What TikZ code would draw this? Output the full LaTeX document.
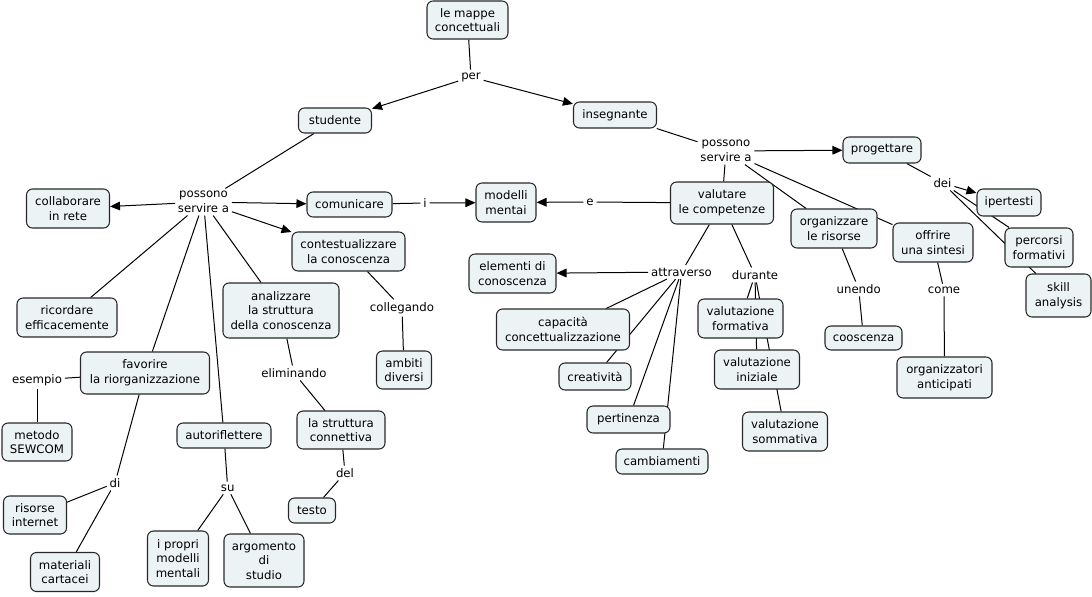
\documentclass[tikz,border=0pt]{standalone}
\usepackage{fontspec}
\setmainfont{DejaVu Sans}
\usetikzlibrary{arrows.meta,backgrounds}
\definecolor{boxfill}{RGB}{236,243,245}
\definecolor{boxline}{RGB}{40,40,40}
\newcommand\cb[6]{\node[cbox,minimum width=#4*0.75pt,minimum height=#5*0.75pt] (#1) at (#2,#3) {#6};}
\newcommand\lp[4]{\node[lab] (#1) at (#2,#3) {#4};}
\begin{document}
\begin{tikzpicture}[x=0.75pt,y=-0.75pt,
  cbox/.style={draw=boxline,fill=boxfill,rounded corners=4.5pt,line width=0.8pt,
    align=center,inner sep=1pt,font=\fontsize{8.8}{10.9}\selectfont},
  lab/.style={align=center,inner sep=2pt,font=\fontsize{8.8}{10.9}\selectfont},
  conn/.style={line width=0.75pt,black},
  arr/.style={conn,-{Triangle[length=7.5pt,width=6.5pt]}}]
\useasboundingbox (0,0) rectangle (1092,596);
% concepts
\cb{mappe}{467.5}{20}{81}{38}{le mappe\\concettuali}
\cb{studente}{335}{120.5}{73}{25}{studente}
\cb{insegnante}{615}{115}{83}{26}{insegnante}
\cb{progettare}{882}{150}{78}{26}{progettare}
\cb{ipertesti}{1009}{202.5}{64}{27}{ipertesti}
\cb{percorsi}{1039}{247.5}{68}{39}{percorsi\\formativi}
\cb{skill}{1058.5}{295.5}{65}{43}{skill\\analysis}
\cb{valutare}{722}{203}{103}{42}{valutare\\le competenze}
\cb{organizzare}{834}{228.5}{86}{39}{organizzare\\le risorse}
\cb{offrire}{933}{242.5}{80}{39}{offrire\\una sintesi}
\cb{modelli}{506}{202.5}{60}{39}{modelli\\mentai}
\cb{comunicare}{349.5}{204.5}{85}{25}{comunicare}
\cb{collaborare}{68}{208.5}{83}{39}{collaborare\\in rete}
\cb{contest}{348.5}{251.5}{113}{39}{contestualizzare\\la conoscenza}
\cb{ambiti}{404}{370}{55}{38}{ambiti\\diversi}
\cb{ricordare}{67}{317.5}{100}{39}{ricordare\\efficacemente}
\cb{analizzare}{281}{310.5}{116}{55}{analizzare\\la struttura\\della conoscenza}
\cb{strutconn}{341}{430}{88}{38}{la struttura\\connettiva}
\cb{testo}{312}{510.5}{47}{25}{testo}
\cb{favorire}{145}{373}{129}{42}{favorire\\la riorganizzazione}
\cb{metodo}{37}{442}{70}{38}{metodo\\SEWCOM}
\cb{risorse}{35}{515}{63}{38}{risorse\\internet}
\cb{materiali}{65}{572}{69}{39}{materiali\\cartacei}
\cb{autorif}{224}{435.5}{94}{25}{autoriflettere}
\cb{propri}{178}{558.5}{61}{55}{i propri\\modelli\\mentali}
\cb{argomento}{264}{560.5}{80}{53}{argomento\\di\\studio}
\cb{elementi}{512.5}{273.5}{87}{39}{elementi di\\conoscenza}
\cb{capacita}{563}{329.5}{133}{41}{capacità\\concettualizzazione}
\cb{creativita}{595}{376.5}{72}{27}{creatività}
\cb{pertinenza}{628.5}{419.5}{83}{27}{pertinenza}
\cb{cambiamenti}{662}{461.5}{92}{25}{cambiamenti}
\cb{formativa}{740.5}{318.5}{85}{39}{valutazione\\formativa}
\cb{iniziale}{757}{369.5}{85}{39}{valutazione\\iniziale}
\cb{sommativa}{785}{431.5}{85}{39}{valutazione\\sommativa}
\cb{cooscenza}{863.5}{338}{77}{24}{cooscenza}
\cb{organizzatori}{944.5}{377.5}{95}{41}{organizzatori\\anticipati}
% linking phrases
\lp{per}{471}{77}{per}
\lp{possL}{203.5}{202}{possono\\servire a}
\lp{possR}{726}{151}{possono\\servire a}
\lp{dei}{942.5}{183}{dei}
\lp{e}{590}{202}{e}
\lp{i}{425}{203}{i}
\lp{attraverso}{681.5}{272}{attraverso}
\lp{durante}{755}{275}{durante}
\lp{unendo}{858.7}{289}{unendo}
\lp{come}{944}{290}{come}
\lp{collegando}{402}{308}{collegando}
\lp{eliminando}{294}{373}{eliminando}
\lp{del}{345}{473}{del}
\lp{esempio}{37}{380}{esempio}
\lp{di}{115}{483}{di}
\lp{su}{227.7}{488}{su}
% connectors
\begin{scope}[on background layer]
\draw[conn] (mappe) -- (per);
\draw[arr] (per) -- (studente);
\draw[arr] (per) -- (insegnante);
\draw[conn] (studente) -- (possL);
\draw[arr] (possL) -- (collaborare);
\draw[arr] (possL) -- (comunicare);
\draw[arr] (possL) -- (contest);
\draw[conn] (possL) -- (ricordare);
\draw[conn] (possL) -- (favorire);
\draw[conn] (possL) -- (autorif);
\draw[conn] (possL) -- (analizzare);
\draw[conn] (comunicare) -- (i);
\draw[arr] (i) -- (modelli);
\draw[conn] (contest) -- (collegando);
\draw[conn] (collegando) -- (ambiti);
\draw[conn] (analizzare) -- (eliminando);
\draw[conn] (eliminando) -- (strutconn);
\draw[conn] (strutconn) -- (del);
\draw[conn] (del) -- (testo);
\draw[conn] (favorire) -- (esempio);
\draw[conn] (esempio) -- (metodo);
\draw[conn] (favorire) -- (di);
\draw[conn] (di) -- (risorse);
\draw[conn] (di) -- (materiali);
\draw[conn] (autorif) -- (su);
\draw[conn] (su) -- (propri);
\draw[conn] (su) -- (argomento);
\draw[conn] (insegnante) -- (possR);
\draw[arr] (possR) -- (progettare);
\draw[conn] (possR) -- (valutare);
\draw[conn] (possR) -- (organizzare);
\draw[conn] (possR) -- (offrire);
\draw[conn] (progettare) -- (dei);
\draw[arr] (dei) -- (ipertesti);
\draw[conn] (dei) -- (percorsi);
\draw[conn] (dei) -- (skill);
\draw[conn] (valutare) -- (e);
\draw[arr] (e) -- (modelli);
\draw[conn] (valutare) -- (attraverso);
\draw[arr] (attraverso) -- (elementi);
\draw[conn] (attraverso) -- (capacita);
\draw[conn] (attraverso) -- (creativita);
\draw[conn] (attraverso) -- (pertinenza);
\draw[conn] (attraverso) -- (cambiamenti);
\draw[conn] (valutare) -- (durante);
\draw[conn] (durante) -- (formativa);
\draw[conn] (durante) -- (iniziale);
\draw[conn] (durante) -- (sommativa);
\draw[conn] (organizzare) -- (unendo);
\draw[conn] (unendo) -- (cooscenza);
\draw[conn] (offrire) -- (come);
\draw[conn] (come) -- (organizzatori);
\end{scope}
\end{tikzpicture}
\end{document}
